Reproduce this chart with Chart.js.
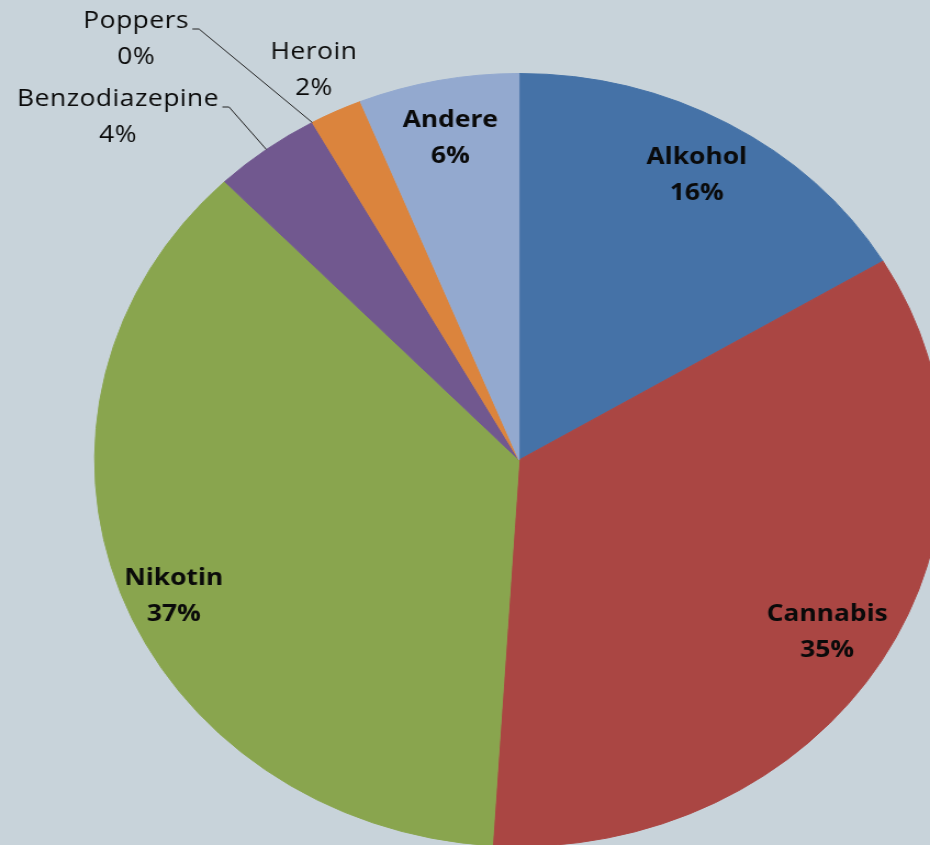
<!DOCTYPE html>
<html>
<head>
<meta charset="utf-8">
<script src="https://cdn.jsdelivr.net/npm/chart.js@4"></script>
<style>
  html, body { margin: 0; padding: 0; width: 930px; height: 845px; overflow: hidden; background: #c8d3da; }
  #wrap { position: absolute; left: 0; top: 0; transform: scaleX(1.098); transform-origin: 0 0; }
</style>
</head>
<body>
<div id="wrap"><canvas id="pie" width="900" height="900"></canvas></div>
<script>
const categories = ['Alkohol', 'Cannabis', 'Nikotin', 'Benzodiazepine', 'Poppers', 'Heroin', 'Andere']
const shares = [16.4, 34.6, 36.8, 4.1, 0, 2.0, 6.1]
const sliceColors = ['#4572a7', '#aa4643', '#89a54e', '#71588f', '#4198af', '#db843d', '#93a9cf']

// which labels sit inside the slice (bold) and which go outside
const insideLabels = ['Alkohol', 'Cannabis', 'Nikotin', 'Andere']
// small manual nudges for inside labels
const labelNudge = { Nikotin: { dx: -6, dy: 22 } }
// outside labels pushed aside, joined to the slice with a leader line
const movedLabels = {
  Benzodiazepine: { x: 107.5, y: 116 },
  Poppers: { x: 124, y: 38 },
}

const total = shares.reduce((a, b) => a + b, 0)
const pct = v => Math.round(v / total * 100) + '%'

const sliceLabels = {
  id: 'sliceLabels',
  afterDatasetsDraw(chart) {
    const ctx = chart.ctx
    const arcs = chart.getDatasetMeta(0).data
    ctx.save()
    ctx.fillStyle = '#0a0a0a'
    ctx.textAlign = 'center'
    ctx.textBaseline = 'alphabetic'
    arcs.forEach((arc, i) => {
      const name = categories[i]
      const { x, y, startAngle, endAngle, outerRadius } = arc.getProps(['x', 'y', 'startAngle', 'endAngle', 'outerRadius'], true)
      const mid = (startAngle + endAngle) / 2
      let cx, cy
      const inside = insideLabels.includes(name)
      ctx.font = (inside ? 'bold ' : '') + '24px "Open Sans"'
      ctx.letterSpacing = inside ? '0px' : '0.5px'
      if (inside) {
        const n = labelNudge[name] || { dx: 0, dy: 0 }
        cx = x + Math.cos(mid) * outerRadius * 0.85 + n.dx
        cy = y + Math.sin(mid) * outerRadius * 0.85 + n.dy
      } else if (movedLabels[name]) {
        cx = movedLabels[name].x
        cy = movedLabels[name].y
        // leader line from the label to the slice edge
        const w = ctx.measureText(name).width
        const ex = x + Math.cos(mid) * outerRadius
        const ey = y + Math.sin(mid) * outerRadius
        const lx = cx + w / 2 + 3
        const ly = cy - 9
        ctx.strokeStyle = '#222'
        ctx.lineWidth = 1
        ctx.beginPath()
        ctx.moveTo(lx, ly)
        ctx.lineTo(lx + 6, ly)
        ctx.lineTo(ex, ey)
        ctx.stroke()
      } else {
        cx = x + Math.cos(mid) * outerRadius * 1.12
        cy = y + Math.sin(mid) * outerRadius * 1.12
      }
      ctx.fillText(name, cx, cy - 10)
      ctx.fillText(pct(shares[i]), cx, cy + 26)
    })
    ctx.restore()
  },
}

new Chart(document.getElementById('pie'), {
  type: 'pie',
  data: {
    labels: categories,
    datasets: [
      {
        data: shares,
        backgroundColor: sliceColors,
        borderColor: sliceColors,
        borderWidth: 1,
      },
    ],
  },
  options: {
    responsive: false,
    animation: false,
    layout: { padding: { left: 85.7, right: 40.3, top: 73, bottom: 53 } },
    plugins: {
      legend: { display: false },
      tooltip: { enabled: false },
    },
  },
  plugins: [sliceLabels],
})
</script>
</body>
</html>
